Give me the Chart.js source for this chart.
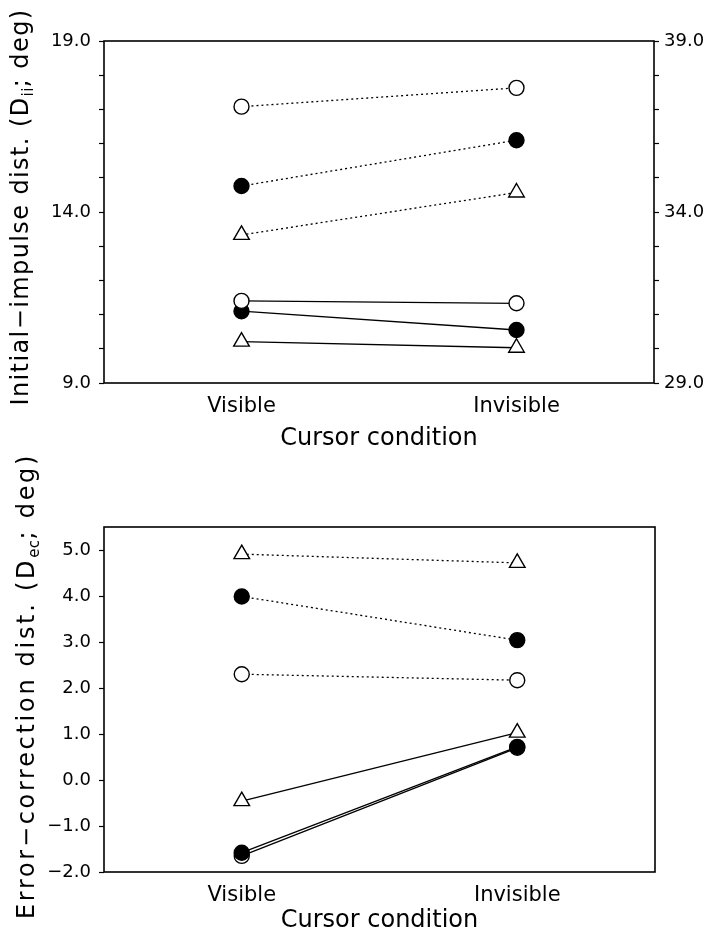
<!DOCTYPE html>
<html>
<head>
<meta charset="utf-8">
<script src="https://cdn.jsdelivr.net/npm/chart.js@4.4.1/dist/chart.umd.min.js"></script>
<style>
  html, body { margin: 0; padding: 0; background: #fff; }
  .wrap { position: relative; width: 710px; height: 935px; }
  canvas { position: absolute; left: 0; }
  #topChart { top: 0; }
  #bottomChart { top: 440px; }
</style>
</head>
<body>
<div class="wrap">
<canvas id="topChart" width="710" height="460"></canvas>
<canvas id="bottomChart" width="710" height="495"></canvas>
</div>
<script>
// cursor conditions on the x axis
const conditions = ['Visible', 'Invisible'];

// top panel: initial-impulse distance (dotted -> left axis, solid -> right axis)
const topOpenDotted = [17.08, 17.63];
const topFilledDotted = [14.76, 16.10];
const topTriDotted = [13.33, 14.57];
const topOpenSolid = [31.40, 31.33];
const topFilledSolid = [31.10, 30.55];
const topTriSolid = [30.21, 30.03];
const topLeftLabels = [9, 14, 19];
const topRightLabels = [29, 34, 39];

// bottom panel: error-correction distance
const botTriDotted = [4.91, 4.72];
const botFilledDotted = [3.99, 3.04];
const botOpenDotted = [2.30, 2.17];
const botTriSolid = [-0.46, 1.03];
const botFilledSolid = [-1.58, 0.72];
const botOpenSolid = [-1.65, 0.70];

const FONT = '"DejaVu Sans"';
Chart.defaults.font.family = FONT;
Chart.defaults.color = '#000';

// rectangle round the plot area
const frame = {
    id: 'frame',
    afterDraw(chart) {
        const a = chart.chartArea;
        const ctx = chart.ctx;
        ctx.save();
        ctx.strokeStyle = '#000';
        ctx.lineWidth = 1.6;
        ctx.strokeRect(a.left, a.top, a.right - a.left, a.bottom - a.top);
        ctx.restore();
    }
};

// rotated y title with a subscript
const yTitle = {
    id: 'yTitle',
    afterDraw(chart, args, opts) {
        const ctx = chart.ctx;
        const big = opts.size + 'px ' + FONT;
        const small = Math.round(opts.size * 0.62) + 'px ' + FONT;
        // text, font, baseline shift, letter spacing
        const parts = [
            [opts.pre, big, 0, opts.spacing],
            [opts.sub, small, opts.size * 0.3, 0.5],
            [opts.post, big, 0, opts.spacing]
        ];
        ctx.save();
        ctx.translate(opts.x, opts.y);
        ctx.rotate(-Math.PI / 2);
        ctx.fillStyle = '#000';
        ctx.textBaseline = 'middle';
        ctx.textAlign = 'left';
        let total = 0;
        parts.forEach(p => {
            ctx.font = p[1];
            ctx.letterSpacing = p[3] + 'px';
            total += ctx.measureText(p[0]).width;
        });
        let x = -total / 2;
        parts.forEach(p => {
            ctx.font = p[1];
            ctx.letterSpacing = p[3] + 'px';
            ctx.fillText(p[0], x, p[2]);
            x += ctx.measureText(p[0]).width;
        });
        ctx.restore();
    }
};

function series(data, style, filled, dotted, axis) {
    return {
        data: data,
        yAxisID: axis || 'y',
        borderColor: '#000',
        borderWidth: 1.3,
        borderDash: dotted ? [2, 3] : [],
        pointStyle: style,
        pointRadius: style === 'triangle' ? 9 : 7.5,
        pointHoverRadius: style === 'triangle' ? 9 : 7.5,
        pointBackgroundColor: filled ? '#000' : '#fff',
        pointBorderColor: '#000',
        pointBorderWidth: 1.4,
        fill: false,
        tension: 0
    };
}

const xScale = (height, tickPad, titlePad) => ({
    type: 'category',
    offset: true,
    border: { display: false },
    grid: { display: false },
    ticks: { font: { size: 21 }, padding: tickPad, maxRotation: 0 },
    title: { display: true, text: 'Cursor condition', font: { size: 24 }, padding: { top: 0, bottom: titlePad } },
    afterFit: (s) => { s.height = height; }
});

const fmt = (v) => (v < 0 ? '\u2212' : '') + Math.abs(v).toFixed(1);

new Chart(document.getElementById('topChart'), {
    type: 'line',
    data: {
        labels: conditions,
        datasets: [
            series(topOpenDotted, 'circle', false, true),
            series(topFilledDotted, 'circle', true, true),
            series(topTriDotted, 'triangle', false, true),
            series(topOpenSolid, 'circle', false, false, 'y2'),
            series(topFilledSolid, 'circle', true, false, 'y2'),
            series(topTriSolid, 'triangle', false, false, 'y2')
        ]
    },
    options: {
        responsive: false,
        animation: false,
        devicePixelRatio: 1,
        layout: { padding: { top: 41, left: 0, right: 0, bottom: 0 } },
        plugins: {
            legend: { display: false },
            tooltip: { enabled: false },
            yTitle: { x: 22, y: 207, size: 24, spacing: 1.4, pre: 'Initial\u2212impulse dist. (D', sub: 'ii', post: '; deg)' }
        },
        scales: {
            x: xScale(77, 3, 7),
            y: {
                position: 'left',
                min: 9, max: 19,
                border: { display: false },
                grid: { drawOnChartArea: false, tickLength: 5, tickColor: '#000', tickWidth: 1.2 },
                ticks: {
                    stepSize: 1, padding: 8, font: { size: 18 },
                    callback: (v) => topLeftLabels.includes(v) ? fmt(v) : ''
                },
                afterFit: (s) => { s.width = 104; }
            },
            y2: {
                position: 'right',
                min: 29, max: 39,
                border: { display: false },
                grid: { drawOnChartArea: false, tickLength: 5, tickColor: '#000', tickWidth: 1.2 },
                ticks: {
                    stepSize: 1, padding: 5, font: { size: 18 },
                    callback: (v) => topRightLabels.includes(v) ? fmt(v) : ''
                },
                afterFit: (s) => { s.width = 56; }
            }
        }
    },
    plugins: [frame, yTitle]
});

new Chart(document.getElementById('bottomChart'), {
    type: 'line',
    data: {
        labels: conditions,
        datasets: [
            series(botTriDotted, 'triangle', false, true),
            series(botFilledDotted, 'circle', true, true),
            series(botOpenDotted, 'circle', false, true),
            series(botFilledSolid, 'circle', true, false),
            series(botTriSolid, 'triangle', false, false),
            series(botOpenSolid, 'circle', false, false)
        ]
    },
    options: {
        responsive: false,
        animation: false,
        devicePixelRatio: 1,
        layout: { padding: { top: 87, left: 0, right: 55, bottom: 0 } },
        plugins: {
            legend: { display: false },
            tooltip: { enabled: false },
            yTitle: { x: 28, y: 246, size: 24, spacing: 2.7, pre: 'Error\u2212correction dist. (D', sub: 'ec', post: '; deg)' }
        },
        scales: {
            x: xScale(63, 3, 0),
            y: {
                min: -2, max: 5.5,
                border: { display: false },
                grid: { drawOnChartArea: false, tickLength: 5, tickColor: '#000', tickWidth: 1.2 },
                ticks: { stepSize: 1, padding: 8, font: { size: 18 }, callback: (v) => fmt(v) },
                afterBuildTicks: (s) => { s.ticks = s.ticks.filter(t => Number.isInteger(t.value)); },
                afterFit: (s) => { s.width = 104; }
            }
        }
    },
    plugins: [frame, yTitle]
});
</script>
</body>
</html>
